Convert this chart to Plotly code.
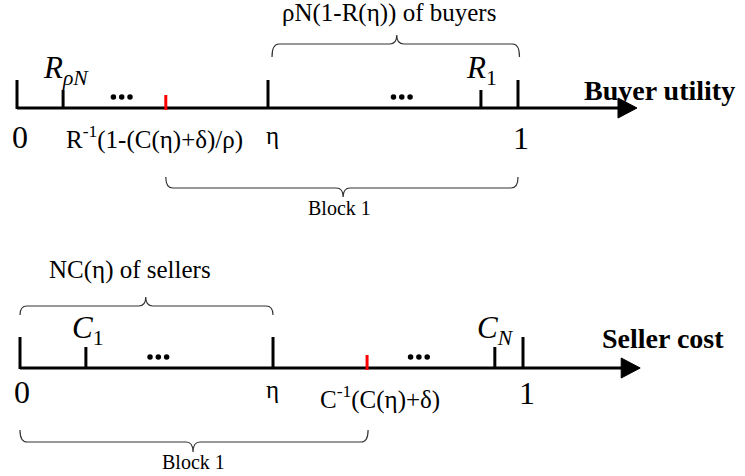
import plotly.graph_objects as go

# ---------------- data (positions on each [0,1] axis) ----------------
buyer_ticks = [0.0, 0.092, 0.501, 0.926, 1.0]          # 0, R_ρN, η, R_1, 1
buyer_tall = [True, False, True, False, True]
buyer_red = 0.297                                     # R^-1(1-(C(η)+δ)/ρ)
buyer_dots = [0.209, 0.768]

seller_ticks = [0.0, 0.131, 0.503, 0.944, 1.0]        # 0, C_1, η, C_N, 1
seller_tall = [True, False, True, False, True]
seller_red = 0.690                                    # C^-1(C(η)+δ)
seller_dots = [0.275, 0.793]

# pixel-to-unit mapping for the two axes
B0, BS = 17.0, 501.0      # buyer axis: unit 0 at px 17, 501 px per unit
S0, SS = 20.0, 503.0      # seller axis
W, H = 745, 476
YB, YS = 108, 368         # baselines

SERIF = "Liberation Serif, Times New Roman, serif"

fig = go.Figure()


def axis_block(xref, ticks, tall, red, dots, y0, scale, tall_h, short_h, arrow_end):
    xa = 'x' if xref == 'x' else 'x2'
    head = 19.0 / scale
    fig.add_trace(go.Scatter(x=[0, arrow_end - head * 0.6], y=[y0, y0], mode='lines',
                             line=dict(color='black', width=3), xaxis=xa, yaxis='y',
                             hoverinfo='skip', showlegend=False))
    fig.add_trace(go.Scatter(x=[arrow_end - head, arrow_end, arrow_end - head, arrow_end - head],
                             y=[y0 - 10, y0, y0 + 10, y0 - 10], mode='lines', fill='toself',
                             fillcolor='black', line=dict(color='black', width=1),
                             xaxis=xa, yaxis='y', hoverinfo='skip', showlegend=False))
    xs, ys = [], []
    for t, tl in zip(ticks, tall):
        xs += [t, t, None]
        ys += [y0 - (tall_h if tl else short_h), y0 + 1, None]
    fig.add_trace(go.Scatter(x=xs, y=ys, mode='lines', line=dict(color='black', width=3),
                             xaxis=xa, yaxis='y', hoverinfo='skip', showlegend=False))
    fig.add_trace(go.Scatter(x=[red, red], y=[y0 - 13, y0 + 2], mode='lines',
                             line=dict(color='#ff0000', width=3),
                             xaxis=xa, yaxis='y', hoverinfo='skip', showlegend=False))
    dx, dy = [], []
    for d in dots:
        for k in (-1, 0, 1):
            dx.append(d + k * 8.3 / scale)
            dy.append(y0 - 11)
    fig.add_trace(go.Scatter(x=dx, y=dy, mode='markers',
                             marker=dict(color='black', size=5.5),
                             xaxis=xa, yaxis='y', hoverinfo='skip', showlegend=False))


axis_block('x', buyer_ticks, buyer_tall, buyer_red, buyer_dots, YB, BS, 28, 18, 1.2375)
axis_block('x2', seller_ticks, seller_tall, seller_red, seller_dots, YS, SS, 31, 21, 1.233)


def brace(xref, x1, x2, xm, ye, yl, yt, scale):
    r = 7.0 / scale
    p = (f"M {x1},{ye} Q {x1},{yl} {x1 + r},{yl} L {xm - r},{yl} "
         f"Q {xm},{yl} {xm},{yt} Q {xm},{yl} {xm + r},{yl} "
         f"L {x2 - r},{yl} Q {x2},{yl} {x2},{ye}")
    fig.add_shape(type='path', path=p, xref=xref, yref='y',
                  line=dict(color='#333333', width=1.2))


brace('x', 0.509, 1.003, 0.758, 57, 44, 35, BS)
brace('x', buyer_red, 1.0, 0.651, 177, 188, 197, BS)
brace('x2', 0.0, 0.503, 0.25, 315, 306, 297, SS)
brace('x2', 0.0, seller_red + 0.002, 0.344, 430, 442, 452, SS)


def label(xref, x, y, text, size, bold=False, xanchor='center'):
    if bold:
        text = f"<b>{text}</b>"
    fig.add_annotation(x=x, y=y, xref=xref, yref='y', text=text, showarrow=False,
                       xanchor=xanchor, yanchor='middle',
                       font=dict(family=SERIF, size=size, color='black'))


# buyer labels
label('x', 0.005, 137, "0", 32)
label('x', 0.275, 137, "R<sup>-1</sup>(1-(C(η)+δ)/ρ)", 25)
label('x', 0.509, 135, "η", 25)
label('x', 1.006, 138, "1", 32)
label('x', 1.128, 90, "Buyer utility", 28, bold=True, xanchor='left')
label('x', 0.098, 70, "<i>R</i><sub><i>ρN</i></sub>", 31)
label('x', 0.928, 70, "<i>R</i><sub>1</sub>", 31)
label('x', 0.742, 13, "ρN(1-R(η)) of buyers", 25)
label('x', 0.643, 208, "Block 1", 20)

# seller labels
label('x2', 0.004, 392, "0", 32)
label('x2', 0.501, 389, "η", 25)
label('x2', 0.716, 397, "C<sup>-1</sup>(C(η)+δ)", 25)
label('x2', 1.008, 393, "1", 32)
label('x2', 1.153, 338, "Seller cost", 28, bold=True, xanchor='left')
label('x2', 0.135, 330, "<i>C</i><sub>1</sub>", 31)
label('x2', 0.946, 330, "<i>C</i><sub><i>N</i></sub>", 31)
label('x2', 0.219, 270, "NC(η) of sellers", 25)
label('x2', 0.344, 462, "Block 1", 20)

fig.update_layout(
    width=W, height=H,
    margin=dict(l=0, r=0, t=0, b=0),
    paper_bgcolor='white', plot_bgcolor='white',
    xaxis=dict(range=[-B0 / BS, (W - B0) / BS], visible=False, domain=[0, 1], fixedrange=True),
    xaxis2=dict(range=[-S0 / SS, (W - S0) / SS], visible=False, domain=[0, 1],
                overlaying='x', anchor='y', fixedrange=True),
    yaxis=dict(range=[H, 0], visible=False, fixedrange=True),
    showlegend=False,
)

fig.write_html("out.html", config={'displayModeBar': False},
               post_script="document.body.style.margin='0';document.body.style.overflow='hidden';")
